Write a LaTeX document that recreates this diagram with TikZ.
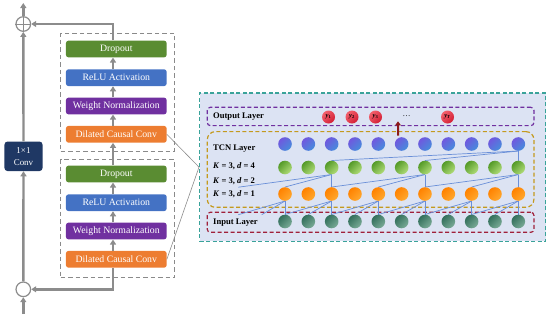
\documentclass[tikz,border=0pt]{standalone}
\usepackage{fontspec}
\setmainfont{Liberation Serif}
\usetikzlibrary{arrows.meta}
\pgfdeclarelayer{back}
\pgfdeclarelayer{links}
\pgfsetlayers{back,links,main}
\definecolor{linegray}{HTML}{8C8C8C}
\definecolor{boxgray}{HTML}{8A8A8A}
\definecolor{cgreen}{HTML}{5A8C32}
\definecolor{cblue}{HTML}{4472C4}
\definecolor{cpurple}{HTML}{7030A0}
\definecolor{corange}{HTML}{ED7D31}
\definecolor{cnavy}{HTML}{1F3864}
\definecolor{cteal}{HTML}{3AA39A}
\definecolor{cbg}{HTML}{DCE3F3}
\definecolor{outb}{HTML}{7030A0}
\definecolor{tcnb}{HTML}{C49A1E}
\definecolor{inb}{HTML}{A0203A}
\definecolor{clink}{HTML}{6A8FD8}
\definecolor{darkred}{HTML}{8B1A1A}
\definecolor{pA}{HTML}{7058DE}
\definecolor{pB}{HTML}{468CDC}
\definecolor{gA}{HTML}{549A28}
\definecolor{gB}{HTML}{B0DC78}
\definecolor{oA}{HTML}{FF8200}
\definecolor{oB}{HTML}{FFA82E}
\definecolor{iA}{HTML}{33705C}
\definecolor{iB}{HTML}{7AAA96}
\definecolor{rA}{HTML}{F2606C}
\definecolor{rB}{HTML}{D21E34}
\begin{document}
\begin{tikzpicture}[x=1bp,y=-1bp,
  blk/.style={rectangle, rounded corners=2.5bp, minimum width=100.7bp, minimum height=16.7bp, inner sep=0pt, text=white, font=\fontsize{9.8}{11}\selectfont},
  gline/.style={draw=linegray, line width=2.4bp},
  garrow/.style={gline, -{Triangle[length=5bp,width=6bp]}},
  dbox/.style={draw=boxgray, line width=1.1bp, dash pattern=on 4.5bp off 3bp, rectangle, inner sep=0pt, anchor=north west},
  lbox/.style={line width=1.2bp, dash pattern=on 4bp off 2.5bp, rectangle, inner sep=0pt, anchor=north west, minimum width=326.6bp},
  lbl/.style={anchor=west, inner sep=0pt, font=\fontsize{8.6}{10}\selectfont\bfseries},
  cnode/.style={circle, minimum size=13.6bp, inner sep=0pt},
  pnode/.style={cnode, top color=pA, bottom color=pB, shading angle=45},
  gnode/.style={cnode, top color=gA, bottom color=gB, shading angle=45},
  onode/.style={cnode, top color=oA, bottom color=oB, shading angle=45},
  inode/.style={cnode, top color=iA, bottom color=iB, shading angle=45},
  rnode/.style={cnode, minimum size=13bp, top color=rA, bottom color=rB, shading angle=45, font=\fontsize{6.5}{7}\selectfont\bfseries},
  link/.style={draw=clink, line width=0.7bp},
]
\useasboundingbox (0,0) rectangle (550,314);

% ---------------- left panel ----------------
\node[dbox, minimum width=114bp, minimum height=118bp] (ub) at (60,32.7) {};
\node[dbox, minimum width=114bp, minimum height=117.7bp] (lb) at (60,159.3) {};

\node[blk, fill=cgreen]  (ud) at (116.3,49)    {Dropout};
\node[blk, fill=cblue]   (ur) at (116.3,77.7)  {ReLU Activation};
\node[blk, fill=cpurple] (uw) at (116.3,106)   {Weight Normalization};
\node[blk, fill=corange] (uc) at (116.3,134.3) {Dilated Causal Conv};

\node[blk, fill=cgreen]  (ld) at (116.3,174)   {Dropout};
\node[blk, fill=cblue]   (lr) at (116.3,202.7) {ReLU Activation};
\node[blk, fill=cpurple] (lw) at (116.3,231)   {Weight Normalization};
\node[blk, fill=corange] (lc) at (116.3,259.3) {Dilated Causal Conv};

\draw[garrow] ([xshift=-3.3bp]uc.north) -- ([xshift=-3.3bp]uw.south);
\draw[garrow] ([xshift=-3.3bp]uw.north) -- ([xshift=-3.3bp]ur.south);
\draw[garrow] ([xshift=-3.3bp]ur.north) -- ([xshift=-3.3bp]ud.south);
\draw[garrow] ([xshift=-3.3bp]ld.north) -- ([xshift=-3.3bp]uc.south);
\draw[garrow] ([xshift=-3.3bp]lc.north) -- ([xshift=-3.3bp]lw.south);
\draw[garrow] ([xshift=-3.3bp]lw.north) -- ([xshift=-3.3bp]lr.south);
\draw[garrow] ([xshift=-3.3bp]lr.north) -- ([xshift=-3.3bp]ld.south);

\node[circle, draw=linegray, line width=1.2bp, fill=white, minimum size=14.6bp, inner sep=0pt] (plus) at (23.3,24) {};
\draw[linegray, line width=1bp] (plus.north) -- (plus.south) (plus.west) -- (plus.east);
\node[circle, draw=linegray, line width=1.2bp, fill=white, minimum size=14.6bp, inner sep=0pt] (bc) at (23.3,289.3) {};
\node[rectangle, rounded corners=3bp, fill=cnavy, minimum width=38bp, minimum height=29.5bp, text=white, align=center, inner sep=0pt, font=\fontsize{9}{12}\selectfont] (conv) at (23.5,156.3) {1×1\\Conv};

\coordinate (topend) at (23.3,3);
\coordinate (inp) at (23.3,314);
\draw[garrow] (plus.north) -- (topend);
\draw[garrow] (conv.north) -- (plus.south);
\draw[garrow] (bc.north) -- (conv.south);
\draw[garrow] (inp) -- (bc.south);
\draw[garrow] ([xshift=-3.3bp]ud.north) |- (plus.east);
\draw[garrow] ([xshift=-3.3bp]lc.south) |- (bc.east);

% ---------------- network panel ----------------
\begin{pgfonlayer}{back}
\node[draw=cteal, fill=cbg, line width=1.4bp, dash pattern=on 4bp off 2.5bp, rectangle, inner sep=0pt, anchor=north west, minimum width=346bp, minimum height=148.2bp] (net) at (199,92.3) {};
\node[lbox, draw=outb, rounded corners=3bp, minimum height=18.3bp] (outbox) at (206.7,106.7) {};
\node[lbox, draw=tcnb, rounded corners=8bp, minimum height=75.7bp] (tcnbox) at (206.7,131) {};
\node[lbox, draw=inb, rounded corners=3bp, minimum height=20bp] (inbox) at (206.7,211.7) {};
\end{pgfonlayer}

\draw[linegray, line width=0.6bp] (uc.east) -- (net.west);
\draw[linegray, line width=0.6bp] (lc.east) -- (net.west);

\node[lbl] (tout) at (213,117) {Output Layer};
\node[lbl] (ttcn) at (213,149) {TCN Layer};
\node[lbl] (td4) at (213,166) {\textit{K} = 3, \textit{d} = 4};
\node[lbl] (td2) at (213,180.7) {\textit{K} = 3, \textit{d} = 2};
\node[lbl] (td1) at (213,194) {\textit{K} = 3, \textit{d} = 1};
\node[lbl] (tin) at (213,222.7) {Input Layer};

\foreach \k in {0,...,10}{
  \pgfmathsetmacro\xx{285+23.33*\k}
  \node[pnode] (p\k) at (\xx,144) {};
  \node[gnode] (g\k) at (\xx,167.5) {};
  \node[onode] (o\k) at (\xx,194) {};
  \node[inode] (i\k) at (\xx,221.5) {};
}
\coordinate (om2) at (238.3,187.2);
\coordinate (im1) at (261.7,214.7);
\coordinate (im2) at (238.3,214.7);

\begin{pgfonlayer}{links}
\foreach \t in {10,6,2} \draw[link] (p10.south) -- (g\t.north);
\foreach \t in {10,8,6} \draw[link] (g10.south) -- (o\t.north);
\foreach \t in {6,4,2} \draw[link] (g6.south) -- (o\t.north);
\draw[link] (g2.south) -- (o2.north);
\draw[link] (g2.south) -- (o0.north);
\draw[link] (g2.south) -- (om2);
\foreach \k in {2,4,6,8,10}{
  \pgfmathtruncatemacro\ka{\k-1}
  \pgfmathtruncatemacro\kb{\k-2}
  \draw[link] (o\k.south) -- (i\k.north);
  \draw[link] (o\k.south) -- (i\ka.north);
  \draw[link] (o\k.south) -- (i\kb.north);
}
\draw[link] (o0.south) -- (i0.north);
\draw[link] (o0.south) -- (im1);
\draw[link] (o0.south) -- (im2);
\end{pgfonlayer}

\node[rnode] (y1) at (328.5,117) {\textit{y}\textsubscript{1}};
\node[rnode] (y2) at (352,117) {\textit{y}\textsubscript{2}};
\node[rnode] (y3) at (375.5,117) {\textit{y}\textsubscript{3}};
\node[rnode] (yT) at (447.5,117) {\textit{y}\textsubscript{\textit{T}}};
\node[inner sep=0pt, font=\fontsize{8}{9}\selectfont] (dots) at (406.7,116.5) {…};

\coordinate (arrtip) at (398,121.3);
\draw[darkred, line width=2bp, -{Triangle[length=4bp,width=5.5bp]}] ([xshift=-3.6bp,yshift=1.5bp]p5.north) -- (arrtip);
\end{tikzpicture}
\end{document}
